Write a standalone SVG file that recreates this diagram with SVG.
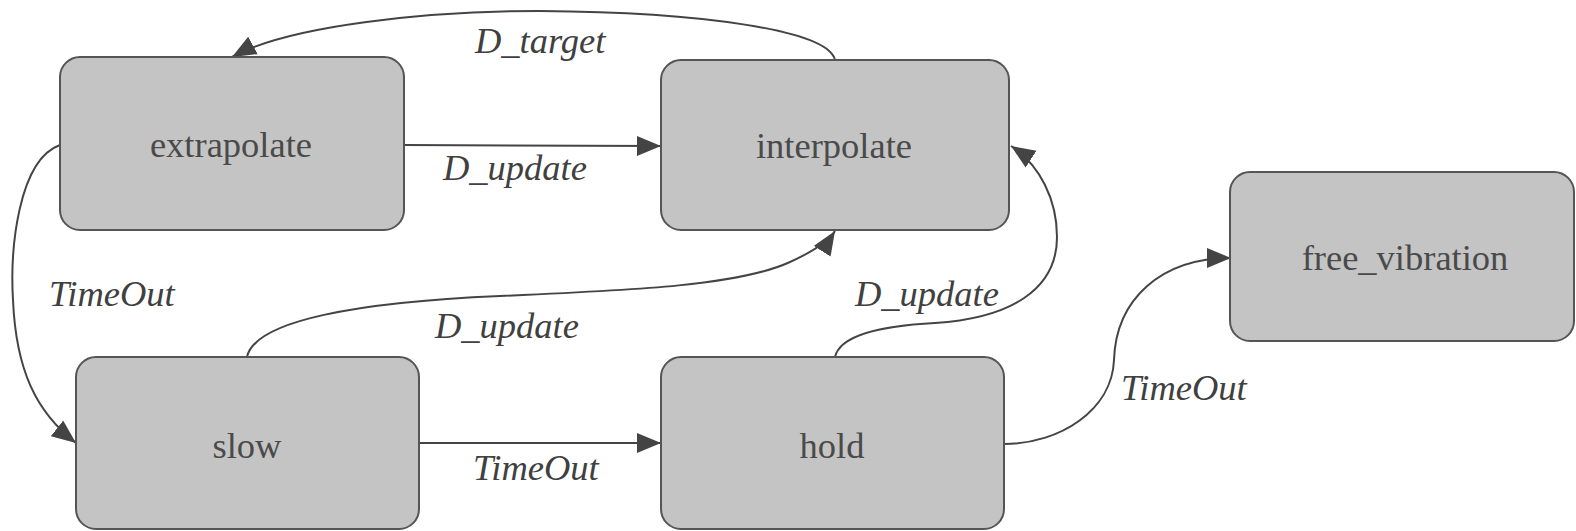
<svg xmlns="http://www.w3.org/2000/svg" width="1576" height="531" viewBox="0 0 1576 531">
<style>
.node rect{fill:#c4c4c4;stroke:#555;stroke-width:2}
.node text{font-family:"Liberation Serif","Times New Roman",serif;font-size:36.5px;fill:#4a4a4a;text-anchor:middle}
.edge{fill:none;stroke:#444;stroke-width:2}
.lbl{font-family:"Liberation Serif","Times New Roman",serif;font-size:36.5px;font-style:italic;fill:#404040}
</style>
<defs>
<marker id="arr" markerUnits="userSpaceOnUse" markerWidth="26" markerHeight="22" viewBox="0 0 26 22" refX="24" refY="11" orient="auto">
<path d="M0,1 L24,11 L0,21 Z" fill="#444"/>
</marker>
</defs>
<rect width="1576" height="531" fill="#fff"/>
<g id="connectors">
<path class="edge" marker-end="url(#arr)" d="M404,145 L661,146"/>
<path class="edge" marker-end="url(#arr)" d="M835,60 C828,30 700,12 540,11 C430,11 290,25 232,57"/>
<path class="edge" marker-end="url(#arr)" d="M60,145 C18,160 10,250 13,300 C16,370 36,412 76,443"/>
<path class="edge" marker-end="url(#arr)" d="M247,357 C255,320 360,302 500,296 C640,290 740,285 790,262 C812,252 828,242 835,231"/>
<path class="edge" marker-end="url(#arr)" d="M419,443 L661,443"/>
<path class="edge" marker-end="url(#arr)" d="M835,357 C840,335 880,326 935,323 C1010,318 1057,290 1057,237 C1057,200 1040,165 1011,146"/>
<path class="edge" marker-end="url(#arr)" d="M1004,444 C1060,444 1112,410 1114,360 C1116,300 1160,258 1231,258"/>
<text class="lbl" x="475" y="53">D_target</text>
<text class="lbl" x="443" y="180">D_update</text>
<text class="lbl" x="49" y="306">TimeOut</text>
<text class="lbl" x="435" y="338">D_update</text>
<text class="lbl" x="473" y="480">TimeOut</text>
<text class="lbl" x="855" y="306">D_update</text>
<text class="lbl" x="1121" y="400">TimeOut</text>
</g>
<g id="extrapolate" class="node"><rect x="60" y="57" width="344" height="173" rx="20"/><text x="231" y="157">extrapolate</text></g>
<g id="interpolate" class="node"><rect x="661" y="60" width="348" height="170" rx="20"/><text x="834" y="158">interpolate</text></g>
<g id="free_vibration" class="node"><rect x="1230" y="172" width="344" height="169" rx="20"/><text x="1405" y="270">free_vibration</text></g>
<g id="slow" class="node"><rect x="76" y="357" width="343" height="172" rx="20"/><text x="247" y="458">slow</text></g>
<g id="hold" class="node"><rect x="661" y="357" width="343" height="172" rx="20"/><text x="832" y="458">hold</text></g>
</svg>
